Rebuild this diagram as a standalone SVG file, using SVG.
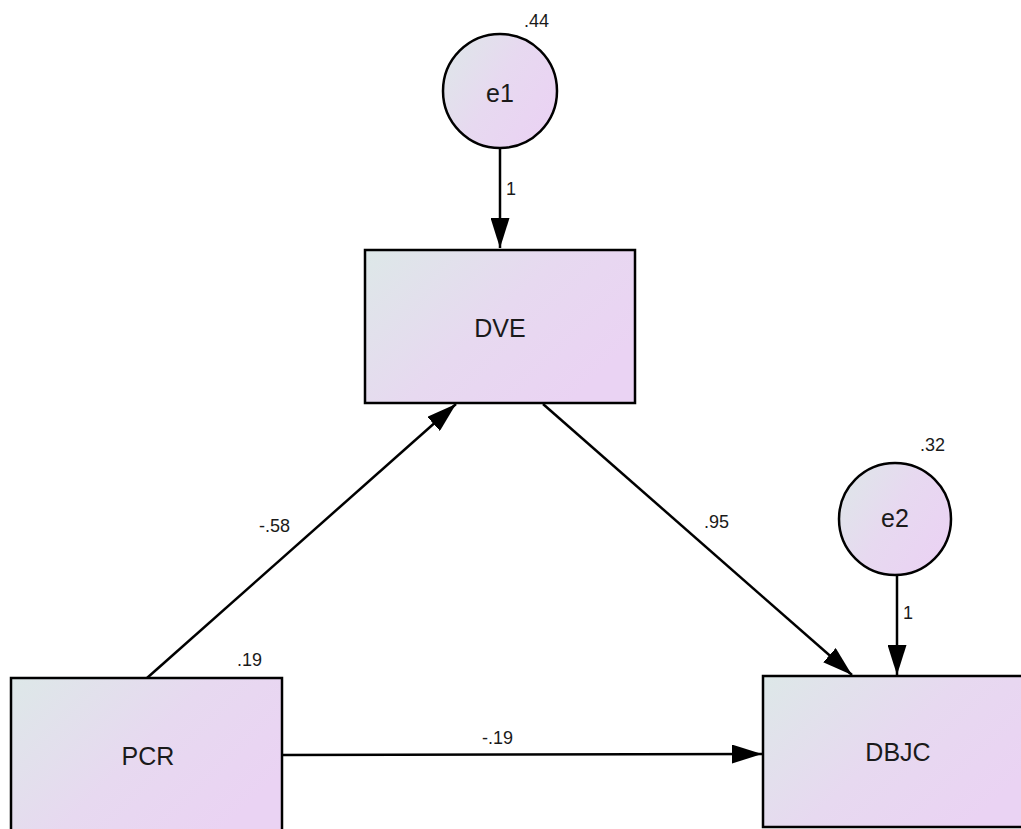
<svg xmlns="http://www.w3.org/2000/svg" width="1021" height="829" viewBox="0 0 1021 829">
<style>
.node{stroke:#000;stroke-width:2.5;fill:url(#g)}
.lbl{font-family:"Liberation Sans",Arial,sans-serif;font-size:25px;fill:#1a1a1a;text-anchor:middle}
.num{font-family:"Liberation Sans",Arial,sans-serif;font-size:18px;fill:#1a1a1a}
.edge{stroke:#000;stroke-width:2.5;fill:none;marker-end:url(#ah)}
</style>
<defs>
<linearGradient id="g" x1="0" y1="0" x2="1" y2="0.6">
<stop offset="0" stop-color="#dde8e8"/>
<stop offset="0.55" stop-color="#e7d9f0"/>
<stop offset="1" stop-color="#ead3f3"/>
</linearGradient>
<marker id="ah" markerWidth="30" markerHeight="19" refX="30" refY="9.5" orient="auto" markerUnits="userSpaceOnUse">
<path d="M0,0 L30,9.5 L0,19 Z" fill="#000"/>
</marker>
</defs>
<rect width="1021" height="829" fill="#fff"/>
<g id="connectors">
<line class="edge" x1="500" y1="149" x2="500" y2="248"/>
<line class="edge" x1="147" y1="678" x2="456" y2="404"/>
<line class="edge" x1="543" y1="404" x2="852" y2="675"/>
<line class="edge" x1="897" y1="576" x2="897" y2="675"/>
<line class="edge" x1="282" y1="755" x2="762" y2="754"/>
<text class="num" x="506" y="195">1</text>
<text class="num" x="903" y="619">1</text>
<text class="num" x="259" y="532">-.58</text>
<text class="num" x="704" y="528">.95</text>
<text class="num" x="482" y="744">-.19</text>
</g>
<g id="e1">
<circle class="node" cx="500" cy="91" r="57"/>
<text class="lbl" x="500" y="102">e1</text>
<text class="num" x="524" y="27">.44</text>
</g>
<g id="DVE">
<rect class="node" x="365" y="250" width="270" height="153"/>
<text class="lbl" x="500" y="337">DVE</text>
</g>
<g id="e2">
<circle class="node" cx="895" cy="519" r="56"/>
<text class="lbl" x="895" y="527">e2</text>
<text class="num" x="920" y="451">.32</text>
</g>
<g id="PCR">
<rect class="node" x="11" y="678" width="271" height="160"/>
<text class="lbl" x="148" y="765">PCR</text>
<text class="num" x="237" y="666">.19</text>
</g>
<g id="DBJC">
<rect class="node" x="763" y="676" width="270" height="151"/>
<text class="lbl" x="898" y="761">DBJC</text>
</g>
</svg>
